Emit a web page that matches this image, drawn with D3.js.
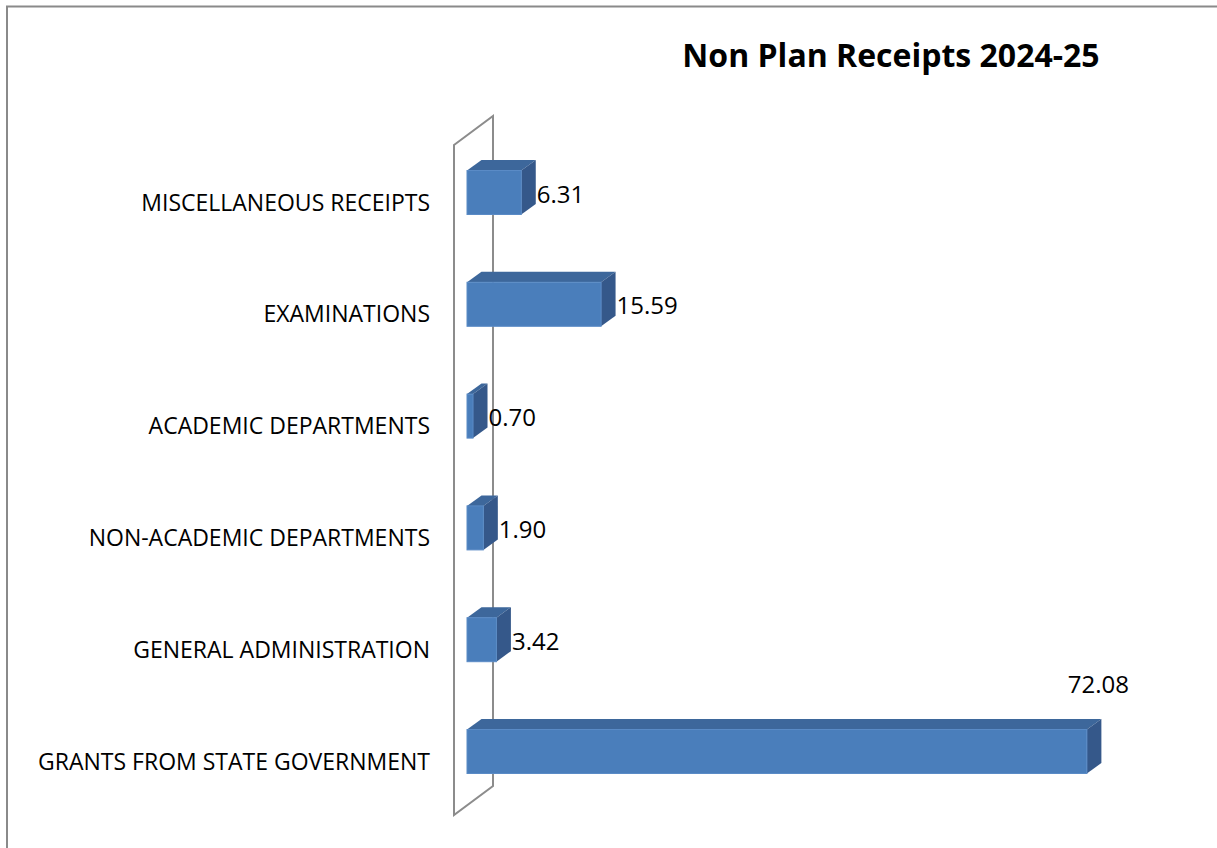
<!DOCTYPE html>
<html>
<head>
<meta charset="utf-8">
<script src="https://cdn.jsdelivr.net/npm/d3@7"></script>
<style>
  html, body { margin: 0; padding: 0; background: #fff; }
  svg { display: block; }
</style>
</head>
<body>
<svg id="chart" width="1217" height="848"></svg>
<script>
// ---- Data ----
const title = "Non Plan Receipts 2024-25";
const categories = [
  "MISCELLANEOUS RECEIPTS",
  "EXAMINATIONS",
  "ACADEMIC DEPARTMENTS",
  "NON-ACADEMIC DEPARTMENTS",
  "GENERAL ADMINISTRATION",
  "GRANTS FROM STATE GOVERNMENT"
];
const values = [6.31, 15.59, 0.70, 1.90, 3.42, 72.08];
const valueLabels = ["6.31", "15.59", "0.70", "1.90", "3.42", "72.08"];

// ---- Layout ----
const W = 1217, H = 848;
const svg = d3.select("#chart");
const font = "'Open Sans', 'DejaVu Sans', sans-serif";

const x = d3.scaleLinear().domain([0, 80]).range([467, 1155]);
const y = d3.scalePoint().domain(categories).range([192.5, 751.5]);
const barH = 44;
const depthX = 14.5, depthY = -10.5;
const wallDX = 39, wallDY = -29;

// chart border (left + top)
svg.append("path")
  .attr("d", `M7,${H} L7,6.5 L${W},6.5`)
  .attr("fill", "none")
  .attr("stroke", "#8a8a8a")
  .attr("stroke-width", 2);

// title
svg.append("text")
  .attr("x", 891).attr("y", 67)
  .attr("text-anchor", "middle")
  .attr("font-family", font)
  .attr("font-weight", "bold")
  .attr("font-size", 32)
  .attr("fill", "#000")
  .text(title);

// 3D side wall
const wx = 454, wTop = 145, wBot = 815;
svg.append("path")
  .attr("d", `M${wx},${wTop} L${wx + wallDX},${wTop + wallDY} L${wx + wallDX},${wBot + wallDY} L${wx},${wBot} Z`)
  .attr("fill", "none")
  .attr("stroke", "#8c8c8c")
  .attr("stroke-width", 2);

// bars
const g = svg.append("g");
categories.forEach((c, i) => {
  const v = values[i];
  const x0 = x(0), x1 = x(v);
  const yc = y(c);
  const yt = yc - barH / 2, yb = yc + barH / 2;
  // top face
  g.append("path")
    .attr("d", `M${x0},${yt} L${x0 + depthX},${yt + depthY} L${x1 + depthX},${yt + depthY} L${x1},${yt} Z`)
    .attr("fill", "#3d679b");
  // side face
  g.append("path")
    .attr("d", `M${x1},${yt} L${x1 + depthX},${yt + depthY} L${x1 + depthX},${yb + depthY} L${x1},${yb} Z`)
    .attr("fill", "#35588a");
  // front face
  g.append("rect")
    .attr("x", x0).attr("y", yt)
    .attr("width", Math.max(0, x1 - x0)).attr("height", barH)
    .attr("fill", "#4a7ebb")
    .attr("stroke", "#5a8bc6")
    .attr("stroke-width", 1);

  // value label
  const isLast = i === categories.length - 1;
  const t = g.append("text")
    .attr("font-family", font)
    .attr("font-size", 24)
    .attr("fill", "#000")
    .text(valueLabels[i]);
  if (isLast) {
    t.attr("x", x1 + depthX - 3).attr("y", yt + depthY - 26).attr("text-anchor", "middle");
  } else {
    t.attr("x", x1 + depthX + 1).attr("y", yc + 10).attr("text-anchor", "start");
  }

  // category label
  svg.append("text")
    .attr("x", 430).attr("y", yc + 18)
    .attr("text-anchor", "end")
    .attr("font-family", font)
    .attr("font-size", 23)
    .attr("fill", "#000")
    .text(c);
});
</script>
</body>
</html>
